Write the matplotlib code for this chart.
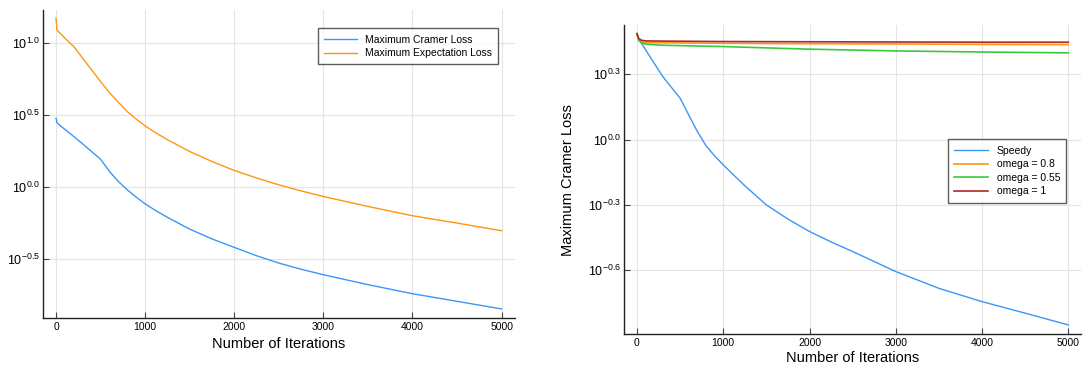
import numpy as np
import matplotlib
matplotlib.use('Agg')
import matplotlib.pyplot as plt
from matplotlib.ticker import FixedLocator, FixedFormatter, NullLocator

plt.rcParams['font.family'] = ['Liberation Sans', 'DejaVu Sans']
plt.rcParams['mathtext.fontset'] = 'custom'
plt.rcParams['mathtext.rm'] = 'Liberation Sans'
plt.rcParams['mathtext.it'] = 'Liberation Sans'

# left panel (log10 of loss)
iters_cramer = [0, 10, 50, 200, 300, 400, 500, 600, 700, 800, 900, 1000, 1100, 1250,
                1500, 1750, 2000, 2250, 2500, 2750, 3000, 3500, 4000, 4500, 5000]
log_cramer = [0.479, 0.449, 0.426, 0.352, 0.300, 0.247, 0.194, 0.109, 0.039, -0.019,
              -0.070, -0.116, -0.156, -0.210, -0.292, -0.360, -0.419, -0.477,
              -0.528, -0.571, -0.609, -0.678, -0.741, -0.794, -0.847]
iters_expect = [0, 10, 100, 200, 300, 400, 500, 600, 700, 800, 900, 1000, 1100, 1250,
                1500, 1750, 2000, 2250, 2500, 2750, 3000, 3500, 4000, 4500, 5000]
log_expect = [1.174, 1.093, 1.035, 0.977, 0.896, 0.815, 0.734, 0.657, 0.590, 0.525,
              0.473, 0.426, 0.385, 0.330, 0.248, 0.178, 0.116, 0.064, 0.016, -0.026,
              -0.065, -0.134, -0.199, -0.250, -0.303]

# right panel
iters_speedy = [0, 10, 100, 200, 300, 400, 500, 600, 700, 800, 900, 1000, 1100, 1250,
                1500, 1750, 2000, 2250, 2500, 2750, 3000, 3500, 4000, 4500, 5000]
log_speedy = [0.486, 0.470, 0.412, 0.350, 0.289, 0.239, 0.190, 0.113, 0.037, -0.028,
              -0.075, -0.116, -0.155, -0.212, -0.300, -0.365, -0.422, -0.470,
              -0.514, -0.560, -0.606, -0.683, -0.744, -0.797, -0.851]
iters_omega = [0, 20, 50, 100, 300, 1000, 2000, 3000, 4000, 5000]
log_omega08 = [0.486, 0.458, 0.449, 0.445, 0.444, 0.442, 0.440, 0.439, 0.437, 0.436]
log_omega055 = [0.486, 0.455, 0.445, 0.438, 0.433, 0.427, 0.415, 0.407, 0.402, 0.398]
log_omega1 = [0.486, 0.465, 0.456, 0.453, 0.452, 0.450, 0.449, 0.448, 0.447, 0.447]

left_ticks = [-0.5, 0.0, 0.5, 1.0]
right_ticks = [-0.6, -0.3, 0.0, 0.3]

blue = '#3a97f5'
orange = '#ff9514'
green = '#3cc83c'
red = '#b02828'


def style(ax, ticks, ylo, yhi, xlabel_y):
    ax.set_yscale('log')
    ax.yaxis.set_major_locator(FixedLocator([10 ** t for t in ticks]))
    ax.yaxis.set_major_formatter(FixedFormatter(['$10^{%.1f}$' % t for t in ticks]))
    ax.yaxis.set_minor_locator(NullLocator())
    ax.set_ylim(10 ** ylo, 10 ** yhi)
    ax.set_xlim(-150, 5150)
    ax.set_xticks([0, 1000, 2000, 3000, 4000, 5000])
    ax.grid(True, color='#e4e4e4', lw=0.8)
    ax.set_axisbelow(True)
    for s in ['top', 'right']:
        ax.spines[s].set_visible(False)
    for s in ['left', 'bottom']:
        ax.spines[s].set_color('#222222')
        ax.spines[s].set_linewidth(1.0)
    ax.tick_params(direction='in', length=4, width=0.8, color='#444444',
                   labelsize=7.5, pad=3)
    ax.tick_params(axis='y', labelsize=9, pad=2)
    ax.set_xlabel('Number of Iterations', fontsize=10.5)
    ax.xaxis.set_label_coords(0.5, xlabel_y)


fig = plt.figure(figsize=(10.83, 3.67), dpi=100)
ax1 = fig.add_axes([0.0394, 0.1335, 0.4361, 0.8393])
ax2 = fig.add_axes([0.5762, 0.0891, 0.4222, 0.8428])

ax1.plot(iters_cramer, 10 ** np.array(log_cramer), color=blue, lw=1, label='Maximum Cramer Loss')
ax1.plot(iters_expect, 10 ** np.array(log_expect), color=orange, lw=1, label='Maximum Expectation Loss')
style(ax1, left_ticks, -0.910, 1.232, -0.062)
leg1 = ax1.legend(loc='upper right', bbox_to_anchor=(0.9646, 0.9406), fontsize=7.5,
                  handlelength=3.1, frameon=True, fancybox=False, borderpad=0.6,
                  labelspacing=0.35, borderaxespad=0)
leg1.get_frame().set_edgecolor('#333333')
leg1.get_frame().set_linewidth(1.0)

ax2.plot(iters_speedy, 10 ** np.array(log_speedy), color=blue, lw=1, label='Speedy')
ax2.plot(iters_omega, 10 ** np.array(log_omega08), color=orange, lw=1.2, label='omega = 0.8')
ax2.plot(iters_omega, 10 ** np.array(log_omega055), color=green, lw=1.2, label='omega = 0.55')
ax2.plot(iters_omega, 10 ** np.array(log_omega1), color=red, lw=1.2, label='omega = 1')
style(ax2, right_ticks, -0.894, 0.526, -0.054)
ax2.set_ylabel('Maximum Cramer Loss', fontsize=10.5)
ax2.yaxis.set_label_coords(-0.108, 0.5)
leg2 = ax2.legend(loc='upper right', bbox_to_anchor=(0.9676, 0.6305), fontsize=7.5,
                  handlelength=3.3, frameon=True, fancybox=False, borderpad=0.6,
                  labelspacing=0.35, borderaxespad=0)
leg2.get_frame().set_edgecolor('#333333')
leg2.get_frame().set_linewidth(1.0)

fig.savefig('out.png', dpi=100)
